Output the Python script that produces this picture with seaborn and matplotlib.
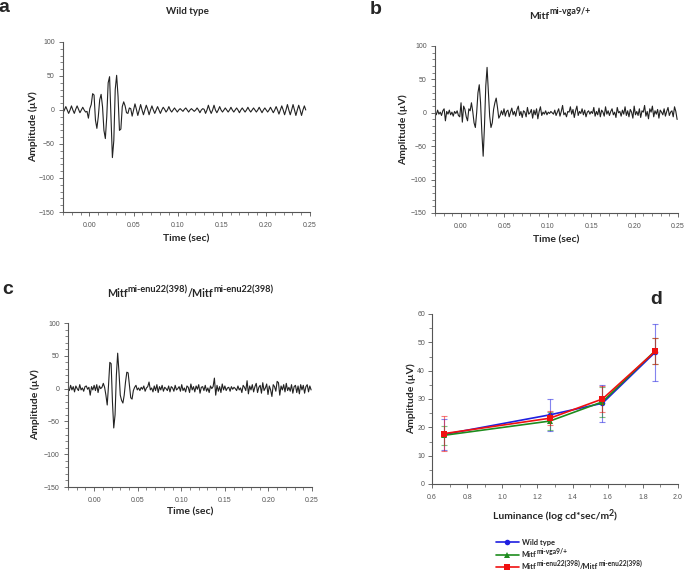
import numpy as np
import matplotlib
matplotlib.use('Agg')
import matplotlib.pyplot as plt
from matplotlib.ticker import MultipleLocator
import seaborn as sns

sns.set_style('ticks')
plt.rcParams['font.family'] = ['Lato', 'DejaVu Sans']


# ---- ERG traces (amplitude in uV on a fixed sampling grid) ----
wt_t0, wt_dt = -0.03, 0.0016
wt_amp = [-4, 0, 5, 0, -5, 0, 6, 0, -5, 1, 6, 1, -4, 0, 4, 0, -3, -2, -12, 2,
          8, 24, 22, -15, -27, -10, 15, 23, 5, -30, -42, -10, 40, 49, -10, -70,
          -45, 30, 51, 20, -30, -28, 5, 12, 6, -4, -5, 3, 2,
          -9, 0, 9, 1, -8, 0, 8, 0, -7, 0, 7, 1, -7, 0, 6, 0, -5, 0, 5, 0,
          -5, 0, 4, 1, -3, 0, 5, 0, -3, 0, 3, 0, -3, 0, 2, 0, -2, 1, 3, 0,
          -3, 0, 2, 0, -2, 0, 3, 0, -4, 0, 2, 1, -5, 0, 7, 0, -5, 0, 7, 0,
          -4, 0, 5, 0, -3, 0, 3, 0, -3, 0, 4, 0, -3, 0, 3, 0, -4, 0, 3, 0,
          -3, 0, 4, 0, -3, 0, 3, 0, -3, 0, 4, 0, -4, 0, 3, 0, -3, 0, 4, 0,
          -4, 0, 5, 0, -6, 0, 6, 0, -7, 0, 8, 0, -7, 0, 8, 0, -8, 0, 7, 0,
          -8, 0, 6, 0]

vga_t0, vga_dt = -0.03, 0.0015
vga_amp = [2, -3, 4, -2, 1, -4, 3, 6, -12, 2, -2, 4, -3, 1, -5, 2, -1, 3, -4, -6,
           15, -14, 10, 5, -6, -12, 6, 3, 15, 2, -15, -22, 0, 30, 42, 15, -30, -65,
           -20, 40, 68, 30, -5, -22, -15, 5, 15, 22, 8, -8, -4, 3, -3, 6, -5, 2,
           4, -6, 1, 7, -3, 2, -5, 5, 10, -4,
           2, -7, 3, 1, -6, 8, -2, 0, 5, -8,
           4, -3, 6, -9, 2, 9, -4, 1, -2, 3,
           -3, 1, -1, 2, 0, -2, 4, -4, 1, 6,
           -5, 2, 11, -3, 0, -6, 2, 1, 9, -2,
           5, -7, 3, 10, -4, 2, -1, 6, -3, 4,
           -6, 1, 3, -2, 2, -1, 8, -5, 2, -3,
           7, -6, 4, 1, -5, 9, -2, 3, -4, 2,
           6, -3, 1, -7, 8, 0, 2, -5, 4, -2,
           9, -4, 3, -6, 5, 1, -8, 10, -3, 2,
           -4, 6, -7, 3, 1, 11, -5, 2, -9, 6,
           1, 10, -6, 3, -2, 5, -8, 4, 1, -3,
           6, -5, 2, 8, -4, 1, 3, -6, 9, 2, -10]

enu_t0, enu_dt = -0.03, 0.0015
enu_amp = [0, -3, 5, -2, 3, -5, 4, 0, -3, 6,
           -2, 1, -4, 3, 4, -1, 2, -10, 3, -2,
           5, -3, 6, -6, 4, 0, 2, 8, 2, -10,
           -25, 5, 40, 38, -20, -60, -40, 20, 54, 25,
           -10, -18, -22, -10, 10, 25, 24, 5, -14, -16,
           -3, 2, 5, -2, 1, -3,
           2, -1, 4, -4, 1, 3, 10, -2, 1, -5,
           4, -3, 6, -6, 3, -2, 5, -4, 2, 0,
           -3, 4, -5, 3, 1, -4, 5, -2, 0, 3,
           -4, 6, -3, 1, -5, 4, 2, -6, 7, -2,
           3, -5, 4, -1, 6, -7, 2, 3, -3, 5,
           -4, 1, -6, 4, 0, 3, 16, -10, 5, -4,
           3, -6, 7, -2, 4, -3, 1, 2, -4, 3,
           -1, 2, 0, -3, 4, -2, 1, -6, 5, 2,
           -3, 12, -8, 4, -2, 6, -5, 3, 8, -6,
           2, 5, -7, 9, -3, 1, 7, -9, 4, -2,
           -12, 6, 3, -4, 11, 9, -10, 4, -2, 6,
           -5, 8, -3, 2, -4, 6, -7, 3, 5, -6,
           4, -8, 6, -2, 5, -7, 3, 6, -5, 4, -2]

# ---- amplitude vs luminance ----
luminance = [0.67, 1.27, 1.57, 1.87]
wt_mean = [17.5, 24.4, 28.5, 46.5]
wt_err = [5.5, 5.6, 6.5, 10.1]
vga_mean = [17.2, 22.2, 29.0, 47.0]
vga_err = [3.4, 3.3, 5.2, 4.5]
enu_mean = [17.8, 23.2, 30.0, 46.8]
enu_err = [6.1, 2.4, 4.5, 4.6]

# genotype names as (text, is_superscript) pieces
name_wt = [('Wild type', False)]
name_vga = [('Mitf', False), ('mi-vga9/+', True)]
name_enu = [('Mitf', False), ('mi-enu22(398)', True), ('/Mitf', False),
            ('mi-enu22(398)', True)]

W, H = 685, 574
fig = plt.figure(figsize=(W / 100, H / 100), dpi=100)
renderer = fig.canvas.get_renderer()


def rich_text(x_px, base_px, pieces, size, ha='center', sup_scale=0.85,
              rise=None):
    # lay out bold text with superscripts; positions in pixels from top-left
    if rise is None:
        rise = size * 0.55
    items = []
    for s, sup in pieces:
        t = fig.text(0, 0, s, fontsize=size * sup_scale if sup else size,
                     fontweight='bold', va='baseline', ha='left')
        items.append((t, t.get_window_extent(renderer).width, sup))
    total = sum(w for _, w, _ in items)
    cur = x_px - total / 2 if ha == 'center' else x_px
    for t, w, sup in items:
        y = base_px - (rise if sup else 0)
        t.set_position((cur / W, 1 - y / H))
        cur += w


def px_axes(l, t, r, b):
    return fig.add_axes([l / W, 1 - b / H, (r - l) / W, (b - t) / H])


def style_axes(ax, ypad):
    sns.despine(ax=ax)
    for s in ('left', 'bottom'):
        ax.spines[s].set_color('#555555')
        ax.spines[s].set_linewidth(0.8)
    ax.tick_params(which='both', direction='out', colors='#555555',
                   labelsize=5, width=0.6)
    ax.tick_params(which='major', length=3)
    ax.tick_params(which='minor', length=2, width=0.5)
    ax.tick_params(axis='x', which='major', pad=4)
    ax.tick_params(axis='y', which='major', pad=ypad)
    for lab in ax.get_xticklabels() + ax.get_yticklabels():
        lab.set_family('Liberation Sans')


def trace_panel(ax, t0, dt, amp, ylx, xly):
    t = t0 + dt * np.arange(len(amp))
    sns.lineplot(x=t, y=amp, ax=ax, color='#222222', lw=0.8,
                 estimator=None, sort=False)
    ax.set_xlim(-0.03, 0.25)
    ax.set_ylim(-150, 100)
    ax.xaxis.set_major_locator(MultipleLocator(0.05))
    ax.xaxis.set_minor_locator(MultipleLocator(0.01))
    ax.yaxis.set_major_locator(MultipleLocator(50))
    ax.yaxis.set_minor_locator(MultipleLocator(10))
    ax.xaxis.set_major_formatter(plt.FuncFormatter(lambda v, p: f'{v:.2f}'))
    ax.set_xlabel('')
    ax.set_ylabel('')
    style_axes(ax, 3)
    ax.text(0.5, xly, 'Time (sec)', transform=ax.transAxes, ha='center',
            va='center', fontsize=7.5, fontweight='bold')
    ax.text(ylx, 0.5, 'Amplitude (\u00b5V)', transform=ax.transAxes,
            ha='center', va='center', rotation=90, fontsize=7.5,
            fontweight='bold')


ax_a = px_axes(63, 42, 310, 212)
trace_panel(ax_a, wt_t0, wt_dt, wt_amp, -0.121, -0.159)
ax_b = px_axes(435, 46, 678, 213)
trace_panel(ax_b, vga_t0, vga_dt, vga_amp, -0.132, -0.162)
ax_c = px_axes(68, 323, 312, 487)
trace_panel(ax_c, enu_t0, enu_dt, enu_amp, -0.135, -0.152)

# panel d
ax_d = px_axes(432, 314, 678, 484)
series = [(wt_mean, wt_err, '#1f1fe0', 'o', name_wt),
          (vga_mean, vga_err, '#1e8c1e', '^', name_vga),
          (enu_mean, enu_err, '#f01010', 's', name_enu)]
for k, (mean, err, col, mk, _) in enumerate(series):
    ax_d.errorbar(luminance, mean, yerr=err, fmt='none', ecolor=col,
                  alpha=0.55, elinewidth=0.8, capsize=2.5, capthick=0.8)
    sns.lineplot(x=luminance, y=mean, ax=ax_d, color=col, lw=1.2,
                 marker=mk, markersize=4, markeredgewidth=0,
                 label=' ' * (k + 1))
ax_d.set_xlim(0.6, 2.0)
ax_d.set_ylim(0, 60)
ax_d.xaxis.set_major_locator(MultipleLocator(0.2))
ax_d.xaxis.set_minor_locator(MultipleLocator(0.1))
ax_d.yaxis.set_major_locator(MultipleLocator(10))
ax_d.yaxis.set_minor_locator(MultipleLocator(5))
ax_d.xaxis.set_major_formatter(plt.FuncFormatter(lambda v, p: f'{v:.1f}'))
ax_d.set_xlabel('')
ax_d.set_ylabel('')
handles, labels = ax_d.get_legend_handles_labels()
ax_d.get_legend().remove()
style_axes(ax_d, 2)
rich_text(555, 519, [('Luminance (log cd*sec/m', False), ('2', True),
                     (')', False)], 7.5, rise=3.5)
ax_d.text(-0.085, 0.5, 'Amplitude (\u00b5V)', transform=ax_d.transAxes,
          ha='center', va='center', rotation=90, fontsize=7.5,
          fontweight='bold')
leg = fig.legend(handles, labels, loc='upper left',
                 bbox_to_anchor=(492 / W, 1 - 535 / H), frameon=False,
                 prop={'size': 5.2, 'weight': 'bold'}, handlelength=3.2,
                 labelspacing=0.75, borderpad=0, handletextpad=0.4)
fig.canvas.draw()
for txt, (_, _, _, _, name) in zip(leg.get_texts(), series):
    bb = txt.get_window_extent(renderer)
    base = H - (bb.y0 + bb.y1) / 2 + 2.5
    rich_text(bb.x0, base, name, 5.4, ha='left', sup_scale=0.88, rise=3.5)

# titles and panel letters
rich_text(187, 14, name_wt, 7)
rich_text(560, 19, name_vga, 7.5, rise=4.5)
rich_text(190, 297, name_enu, 7.7, rise=4.5)
for letter, x, y in [('a', 4, 8), ('b', 376, 9), ('c', 8, 289),
                     ('d', 656, 299)]:
    fig.text(x / W, 1 - y / H, letter, ha='center', va='center',
             fontsize=14, fontweight='bold', family='Liberation Sans')

fig.savefig('out.png', dpi=100)
